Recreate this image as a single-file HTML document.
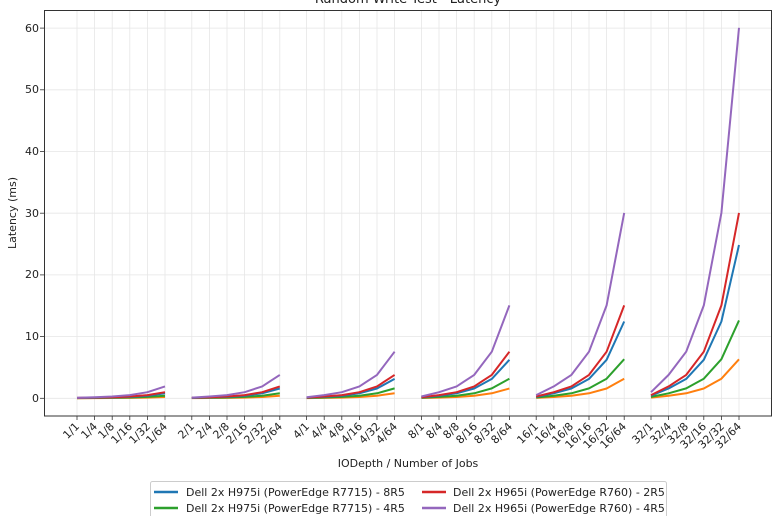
<!DOCTYPE html>
<html><head><meta charset="utf-8"><style>
html,body{margin:0;padding:0;background:#fff;}
svg{display:block;font-family:"DejaVu Sans","Liberation Sans",sans-serif;}
</style></head><body>
<svg id="s" width="780" height="516" viewBox="0 0 780 516" xmlns="http://www.w3.org/2000/svg">
<rect width="780" height="516" fill="#fff"/>
<text x="408" y="3" font-size="13" text-anchor="middle" fill="#222">Random Write Test - Latency</text>
<g id="grid" stroke="#e6e6e6" stroke-width="0.8"></g>
<g id="lines" fill="none" stroke-width="2" stroke-linejoin="round"></g>
<rect x="44.5" y="10.5" width="727" height="405.5" fill="none" stroke="#333" stroke-width="1"/>
<g font-size="11" fill="#222" text-anchor="end">
<text x="39" y="402">0</text>
<text x="39" y="340">10</text>
<text x="39" y="278">20</text>
<text x="39" y="217">30</text>
<text x="39" y="155">40</text>
<text x="39" y="93">50</text>
<text x="39" y="32">60</text>
</g>
<g stroke="#333" stroke-width="0.8">
<line x1="40" x2="44" y1="398.3" y2="398.3"/><line x1="40" x2="44" y1="336.6" y2="336.6"/><line x1="40" x2="44" y1="274.9" y2="274.9"/><line x1="40" x2="44" y1="213.2" y2="213.2"/><line x1="40" x2="44" y1="151.5" y2="151.5"/><line x1="40" x2="44" y1="89.8" y2="89.8"/><line x1="40" x2="44" y1="28.1" y2="28.1"/>
</g>
<g id="xt" stroke="#333" stroke-width="0.8"></g>
<text transform="translate(16,213) rotate(-90)" font-size="11" text-anchor="middle" fill="#222">Latency (ms)</text>
<g font-size="11" fill="#222" text-anchor="end">
<text transform="translate(80,427) rotate(-45)">1/1</text>
<text transform="translate(98,427) rotate(-45)">1/4</text>
<text transform="translate(115,427) rotate(-45)">1/8</text>
<text transform="translate(133,427) rotate(-45)">1/16</text>
<text transform="translate(151,427) rotate(-45)">1/32</text>
<text transform="translate(168,427) rotate(-45)">1/64</text>
<text transform="translate(195,427) rotate(-45)">2/1</text>
<text transform="translate(213,427) rotate(-45)">2/4</text>
<text transform="translate(230,427) rotate(-45)">2/8</text>
<text transform="translate(248,427) rotate(-45)">2/16</text>
<text transform="translate(266,427) rotate(-45)">2/32</text>
<text transform="translate(283,427) rotate(-45)">2/64</text>
<text transform="translate(310,427) rotate(-45)">4/1</text>
<text transform="translate(328,427) rotate(-45)">4/4</text>
<text transform="translate(345,427) rotate(-45)">4/8</text>
<text transform="translate(363,427) rotate(-45)">4/16</text>
<text transform="translate(381,427) rotate(-45)">4/32</text>
<text transform="translate(398,427) rotate(-45)">4/64</text>
<text transform="translate(425,427) rotate(-45)">8/1</text>
<text transform="translate(443,427) rotate(-45)">8/4</text>
<text transform="translate(460,427) rotate(-45)">8/8</text>
<text transform="translate(478,427) rotate(-45)">8/16</text>
<text transform="translate(496,427) rotate(-45)">8/32</text>
<text transform="translate(513,427) rotate(-45)">8/64</text>
<text transform="translate(539,427) rotate(-45)">16/1</text>
<text transform="translate(557,427) rotate(-45)">16/4</text>
<text transform="translate(574,427) rotate(-45)">16/8</text>
<text transform="translate(592,427) rotate(-45)">16/16</text>
<text transform="translate(610,427) rotate(-45)">16/32</text>
<text transform="translate(627,427) rotate(-45)">16/64</text>
<text transform="translate(654,427) rotate(-45)">32/1</text>
<text transform="translate(672,427) rotate(-45)">32/4</text>
<text transform="translate(689,427) rotate(-45)">32/8</text>
<text transform="translate(707,427) rotate(-45)">32/16</text>
<text transform="translate(725,427) rotate(-45)">32/32</text>
<text transform="translate(742,427) rotate(-45)">32/64</text>
</g>
<text x="408" y="467" font-size="11" text-anchor="middle" fill="#222">IODepth / Number of Jobs</text>
<rect x="150.5" y="481.5" width="516" height="40" rx="2" fill="#fff" stroke="#ccc"/>
<g stroke-width="2.5">
<line x1="154" x2="178" y1="492" y2="492" stroke="#1f77b4"/>
<line x1="154" x2="178" y1="508" y2="508" stroke="#2ca02c"/>
<line x1="422" x2="446" y1="492" y2="492" stroke="#d62728"/>
<line x1="422" x2="446" y1="508" y2="508" stroke="#9467bd"/>
</g>
<g font-size="11" fill="#222">
<text x="186" y="496">Dell 2x H975i (PowerEdge R7715) - 8R5</text>
<text x="186" y="512">Dell 2x H975i (PowerEdge R7715) - 4R5</text>
<text x="453" y="496">Dell 2x H965i (PowerEdge R760) - 2R5</text>
<text x="453" y="512">Dell 2x H965i (PowerEdge R760) - 4R5</text>
</g>
</svg>
<script>
var NS="http://www.w3.org/2000/svg";
var iods=[1,2,4,8,16,32],jobs=[1,4,8,16,32,64];
var xs=[],pts=[];
iods.forEach(function(d,g){jobs.forEach(function(j,k){var x=77+g*114.8+k*17.6;xs.push(x);pts.push([x,d*j]);});});
var grid=document.getElementById("grid"),xt=document.getElementById("xt");
function ln(p,a){var l=document.createElementNS(NS,"line");for(var k in a)l.setAttribute(k,a[k]);p.appendChild(l);}
[398.3,336.6,274.9,213.2,151.5,89.8,28.1].forEach(function(y){ln(grid,{x1:44,x2:772,y1:y,y2:y});});
xs.forEach(function(x){ln(grid,{x1:x,x2:x,y1:10,y2:416});ln(xt,{x1:x,x2:x,y1:416,y2:420});});
function Y(v){return 398.3-v*6.17;}
var series=[["#ff7f0e",6.3/2048,0.02],["#2ca02c",12.6/2048,0.03],["#1f77b4",24.8/2048,0.04],["#d62728",30/2048,0.05],["#9467bd",60/2048,0.05]];
var L=document.getElementById("lines");
series.forEach(function(s){
  for(var g=0;g<6;g++){
    var p=[];for(var k=0;k<6;k++){var q=pts[g*6+k];p.push(q[0].toFixed(1)+","+Y(q[1]*s[1]+s[2]).toFixed(1));}
    var pl=document.createElementNS(NS,"polyline");pl.setAttribute("points",p.join(" "));pl.setAttribute("stroke",s[0]);L.appendChild(pl);
  }
});
</script>
</body></html>
